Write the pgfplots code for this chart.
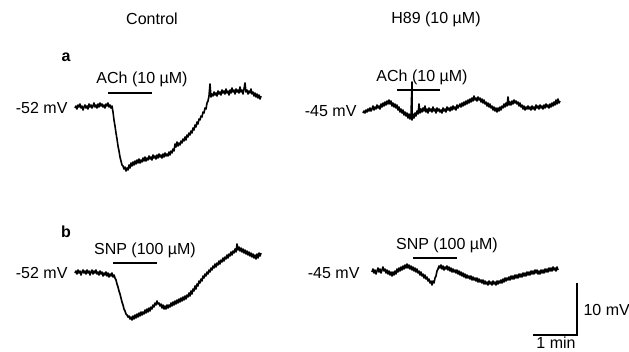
\documentclass[border=0pt]{standalone}
\usepackage{fontspec}
\setmainfont{Liberation Sans}
\usepackage{pgfplots}
\pgfplotsset{compat=1.18}
\begin{document}
\fontsize{16}{18}\selectfont
\begin{tikzpicture}
\useasboundingbox (0,0) rectangle (629pt,351pt);
\begin{axis}[at={(0,0)}, anchor=south west, scale only axis, width=629pt, height=351pt,
  xmin=0, xmax=629, ymin=0, ymax=351, y dir=reverse, hide axis, clip=false]
% Control a
\addplot[black, line width=1.6pt, line join=round] coordinates {
(75,108)(76,106)(77,109)(78,105)(79,107)(80,104)(81,108)(82,106)(83,110)(84,107)(85,105)(86,108)(87,106)(88,109)(89,104)(90,107)(91,105)(92,108)(93,106)(94,103)(95,107)(96,105)(97,108)(98,104)(99,107)(100,103)(101,106)(102,104)(103,107)(104,105)(105,108)(106,104)(107,106)(108,103)(109,107)(110,105)(111,108)(112,106)(113,112)(114,120)(115,126)(116,133)(117,139)(118,146)(119,151)(120,157)(121,161)(122,165)(123,166)(124,169)(125,167)(126,171)(127,168)(128,170)(129,165)(130,168)(131,163)(132,166)(133,162)(134,165)(135,161)(136,164)(137,160)(138,163)(139,159)(140,163)(141,160)(142,162)(143,158)(144,161)(145,157)(146,161)(147,158)(148,160)(149,156)(150,159)(151,157)(152,160)(153,155)(154,158)(155,156)(156,159)(157,155)(158,158)(159,154)(160,157)(161,155)(162,158)(163,154)(164,157)(165,153)(166,156)(167,154)(168,156)(169,152)(170,155)(171,151)(172,153)(173,149)(174,151)(175,144)(176,147)(177,142)(178,146)(179,143)(180,145)(181,141)(182,143)(183,139)(184,141)(185,137)(186,140)(187,135)(188,137)(189,133)(190,135)(191,131)(192,133)(193,128)(194,130)(195,125)(196,127)(197,122)(198,124)(199,119)(200,120)(201,116)(202,117)(203,112)(204,113)(205,108)(206,109)(207,103)(208,101)(209,96)(210,84)(211,97)(212,94)(213,96)(214,92)(215,95)(216,93)(217,96)(218,91)(219,94)(220,92)(221,95)(222,90)(223,93)(224,91)(225,94)(226,89)(227,93)(228,91)(229,95)(230,90)(231,93)(232,88)(233,92)(234,90)(235,94)(236,89)(237,92)(238,90)(239,93)(240,87)(241,92)(242,90)(243,94)(244,89)(245,83)(246,92)(247,90)(248,94)(249,91)(250,93)(251,89)(252,94)(253,92)(254,96)(255,93)(256,97)(257,94)(258,98)(259,95)(260,99)(261,96)
};
% H89 a
\addplot[black, line width=1.6pt, line join=round] coordinates {
(363,113)(364,111)(365,113)(366,110)(367,112)(368,109)(369,111)(370,108)(371,111)(372,109)(373,106)(374,110)(375,107)(376,109)(377,105)(378,108)(379,106)(380,109)(381,104)(382,107)(383,103)(384,106)(385,102)(386,105)(387,101)(388,104)(389,100)(390,104)(391,101)(392,106)(393,103)(394,107)(395,104)(396,108)(397,105)(398,110)(399,107)(400,112)(401,109)(402,113)(403,110)(404,115)(405,112)(406,116)(407,113)(408,118)(409,114)(410,119)(411,115)(412,82)(412,120)(413,114)(414,118)(415,113)(416,116)(417,111)(418,114)(419,104)(420,113)(421,109)(422,112)(423,108)(424,111)(425,106)(426,112)(427,109)(428,113)(429,108)(430,111)(431,109)(432,112)(433,107)(434,111)(435,109)(436,113)(437,108)(438,111)(439,109)(440,112)(441,110)(442,113)(443,108)(444,111)(445,109)(446,112)(447,107)(448,110)(449,108)(450,111)(451,107)(452,110)(453,106)(454,109)(455,107)(456,110)(457,105)(458,108)(459,106)(460,104)(461,107)(462,103)(463,106)(464,102)(465,105)(466,101)(467,104)(468,100)(469,103)(470,99)(471,102)(472,98)(473,101)(474,96)(475,100)(476,98)(477,101)(478,97)(479,100)(480,98)(481,102)(482,99)(483,103)(484,100)(485,104)(486,102)(487,106)(488,103)(489,107)(490,104)(491,108)(492,106)(493,110)(494,107)(495,111)(496,108)(497,112)(498,108)(499,111)(500,107)(501,110)(502,106)(503,108)(504,104)(505,107)(506,103)(507,106)(508,97)(509,105)(510,102)(511,105)(512,101)(513,104)(514,100)(515,103)(516,101)(517,104)(518,102)(519,106)(520,103)(521,107)(522,105)(523,109)(524,106)(525,110)(526,107)(527,109)(528,106)(529,109)(530,107)(531,110)(532,106)(533,109)(534,107)(535,110)(536,105)(537,108)(538,106)(539,109)(540,105)(541,108)(542,106)(543,109)(544,105)(545,108)(546,104)(547,107)(548,105)(549,108)(550,104)(551,107)(552,103)(553,106)(554,102)(555,105)(556,100)(557,104)(558,99)(559,103)(560,101)
};
% Control b
\addplot[black, line width=1.6pt, line join=round] coordinates {
(75,273)(76,271)(77,274)(78,270)(79,273)(80,271)(81,275)(82,272)(83,270)(84,273)(85,271)(86,274)(87,270)(88,273)(89,271)(90,275)(91,272)(92,270)(93,274)(94,271)(95,273)(96,270)(97,274)(98,272)(99,275)(100,271)(101,274)(102,272)(103,276)(104,273)(105,275)(106,272)(107,276)(108,273)(109,277)(110,274)(111,276)(112,273)(113,277)(114,275)(115,278)(116,280)(117,284)(118,287)(119,291)(120,294)(121,298)(122,302)(123,305)(124,309)(125,311)(126,314)(127,315)(128,317)(129,316)(130,319)(131,317)(132,320)(133,316)(134,319)(135,315)(136,318)(137,314)(138,317)(139,313)(140,316)(141,312)(142,315)(143,312)(144,314)(145,310)(146,313)(147,309)(148,312)(149,308)(150,311)(151,307)(152,309)(153,305)(154,307)(155,303)(156,305)(157,301)(158,304)(159,303)(160,306)(161,304)(162,308)(163,305)(164,309)(165,306)(166,309)(167,305)(168,308)(169,305)(170,307)(171,303)(172,306)(173,302)(174,305)(175,301)(176,304)(177,300)(178,303)(179,299)(180,302)(181,298)(182,301)(183,297)(184,300)(185,296)(186,299)(187,295)(188,297)(189,293)(190,296)(191,291)(192,294)(193,289)(194,291)(195,286)(196,289)(197,284)(198,286)(199,281)(200,283)(201,279)(202,281)(203,276)(204,278)(205,274)(206,276)(207,272)(208,274)(209,270)(210,272)(211,268)(212,270)(213,266)(214,268)(215,264)(216,267)(217,263)(218,265)(219,261)(220,264)(221,260)(222,262)(223,258)(224,261)(225,257)(226,259)(227,255)(228,258)(229,254)(230,256)(231,252)(232,255)(233,251)(234,253)(235,249)(236,252)(237,244)(238,250)(239,247)(240,251)(241,248)(242,252)(243,249)(244,253)(245,250)(246,254)(247,251)(248,255)(249,252)(250,256)(251,253)(252,257)(253,254)(254,258)(255,255)(256,259)(257,254)(258,258)(259,253)(260,256)(261,253)
};
% H89 b
\addplot[black, line width=1.6pt, line join=round] coordinates {
(372,272)(373,269)(374,273)(375,270)(376,274)(377,271)(378,268)(379,272)(380,269)(381,273)(382,270)(383,267)(384,271)(385,269)(386,273)(387,270)(388,274)(389,271)(390,275)(391,272)(392,276)(393,272)(394,275)(395,271)(396,274)(397,269)(398,272)(399,268)(400,271)(401,267)(402,270)(403,266)(404,269)(405,265)(406,268)(407,264)(408,268)(409,265)(410,269)(411,266)(412,270)(413,267)(414,271)(415,268)(416,272)(417,269)(418,273)(419,271)(420,275)(421,272)(422,276)(423,274)(424,278)(425,275)(426,279)(427,277)(428,281)(429,279)(430,283)(431,281)(432,285)(433,281)(434,283)(435,278)(436,276)(437,271)(438,269)(439,266)(440,268)(441,265)(442,269)(443,266)(444,270)(445,267)(446,269)(447,266)(448,270)(449,267)(450,271)(451,268)(452,272)(453,269)(454,272)(455,270)(456,273)(457,270)(458,274)(459,271)(460,275)(461,272)(462,276)(463,273)(464,277)(465,274)(466,278)(467,275)(468,278)(469,276)(470,279)(471,276)(472,280)(473,277)(474,280)(475,278)(476,281)(477,278)(478,282)(479,279)(480,282)(481,280)(482,283)(483,280)(484,284)(485,281)(486,284)(487,282)(488,285)(489,281)(490,284)(491,282)(492,285)(493,281)(494,284)(495,282)(496,285)(497,281)(498,284)(499,281)(500,283)(501,280)(502,283)(503,279)(504,282)(505,278)(506,281)(507,278)(508,280)(509,277)(510,280)(511,276)(512,279)(513,276)(514,279)(515,275)(516,278)(517,275)(518,278)(519,274)(520,277)(521,274)(522,277)(523,273)(524,276)(525,273)(526,276)(527,272)(528,275)(529,272)(530,275)(531,271)(532,274)(533,271)(534,274)(535,270)(536,273)(537,270)(538,274)(539,271)(540,274)(541,270)(542,273)(543,270)(544,273)(545,269)(546,272)(547,269)(548,272)(549,268)(550,271)(551,268)(552,271)(553,267)(554,270)(555,268)(556,271)(557,267)(558,270)
};
% drug application bars
\addplot[black, line width=2.6pt] coordinates {(108,93)(152,93)};
\addplot[black, line width=2.6pt] coordinates {(397,90)(440,90)};
\addplot[black, line width=2.6pt] coordinates {(113,263)(157,263)};
\addplot[black, line width=2.6pt] coordinates {(413,258)(457,258)};
% scale bar
\addplot[black, line width=1.8pt] coordinates {(533,335)(577,335)(577,283)};
% texts
\node at (axis cs:152,19) {Control};
\node at (axis cs:436,19) {H89 (10 µM)};
\node[font=\bfseries] at (axis cs:66,57) {a};
\node[font=\bfseries] at (axis cs:66,232) {b};
\node at (axis cs:142,79) {ACh (10 µM)};
\node at (axis cs:422,77) {ACh (10 µM)};
\node at (axis cs:145,250) {SNP (100 µM)};
\node at (axis cs:447,245) {SNP (100 µM)};
\node[anchor=east] at (axis cs:73,108) {-52 mV};
\node[anchor=east] at (axis cs:362,111) {-45 mV};
\node[anchor=east] at (axis cs:73,273) {-52 mV};
\node[anchor=east] at (axis cs:365,273) {-45 mV};
\node[anchor=west] at (axis cs:578,310) {10 mV};
\node[inner sep=1pt] at (axis cs:556,343) {1 min};
\end{axis}
\end{tikzpicture}
\end{document}
